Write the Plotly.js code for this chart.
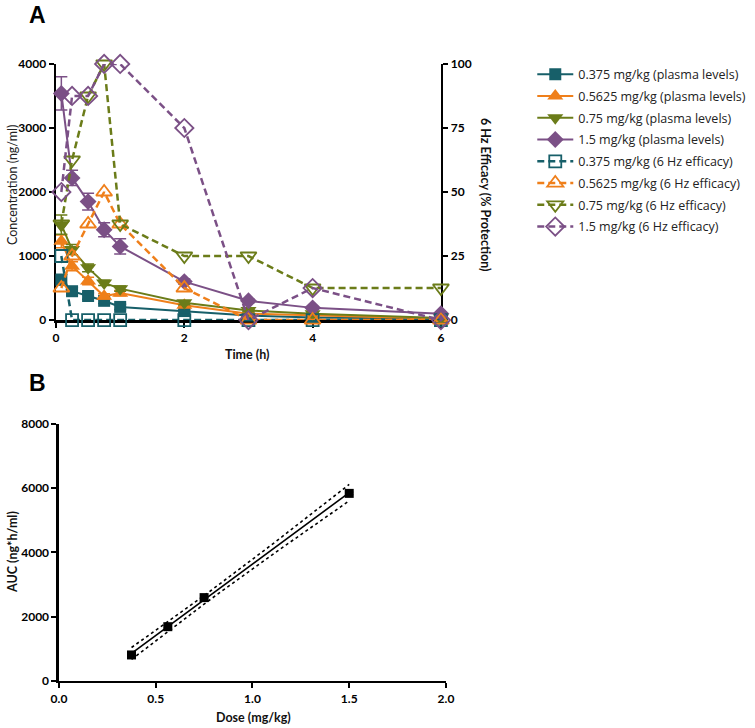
<!DOCTYPE html>
<html>
<head>
<meta charset="utf-8">
<script src="https://cdn.plot.ly/plotly-3.0.1.min.js"></script>
<style>html,body{margin:0;padding:0;background:#fff;}#chart{width:755px;height:728px;}</style>
</head>
<body>
<div id="chart"></div>
<script>
// ---------- Data (panel A) ----------
var timeH = [0.083, 0.25, 0.5, 0.75, 1, 2, 3, 4, 6];
var doseLabels = ["0.375 mg/kg", "0.5625 mg/kg", "0.75 mg/kg", "1.5 mg/kg"];

// plasma concentration (ng/ml), mean and error
var plasma0375 = [630, 450, 375, 300, 205, 140, 70, 40, 20];
var plasma05625 = [1230, 840, 610, 370, 420, 230, 100, 70, 20];
var plasma075 = [1490, 1100, 815, 580, 490, 270, 150, 100, 30];
var plasma15 = [3540, 2220, 1850, 1410, 1150, 600, 300, 190, 100];
var err0375 = [80, 60, 50, 40, 40, 20, 10, 10, 5];
var err05625 = [100, 70, 60, 40, 40, 30, 10, 10, 5];
var err075 = [150, 80, 60, 40, 40, 30, 20, 10, 5];
var err15 = [260, 120, 130, 110, 120, 40, 30, 20, 10];

// 6 Hz efficacy (% protection)
var eff0375 = [25, 0, 0, 0, 0, 0, 0, 0, 0];
var eff05625 = [12.5, 25, 37.5, 50, 37.5, 12.5, 0, 0, 0];
var eff075 = [37.5, 62.5, 87.5, 100, 37.5, 25, 25, 12.5, 12.5];
var eff15 = [50, 87.5, 87.5, 100, 100, 75, 0, 12.5, 0];

// ---------- Data (panel B) ----------
var doseMgKg = [0.375, 0.5625, 0.75, 1.5];
var aucValues = [810, 1690, 2595, 5840];
var aucErr = [40, 40, 40, 40];

var colors = ["#175f69", "#ef7f1a", "#6b7c19", "#7b5086"];
var plasmaSeries = [plasma0375, plasma05625, plasma075, plasma15];
var errSeries = [err0375, err05625, err075, err15];
var effSeries = [eff0375, eff05625, eff075, eff15];
var filledSymbols = ["square", "triangle-up", "triangle-down", "diamond"];
var openSymbols = ["square-open", "triangle-up-open", "triangle-down-open", "diamond-open"];
var filledSizes = [12, 14, 14, 13];
var openSizes = [12, 14, 14, 14];

var legendFont = {family: "'Open Sans', Lato, sans-serif", size: 12.5, color: "#222"};
var traces = [];
for (var i = 0; i < 4; i++) {
  traces.push({
    x: timeH, y: plasmaSeries[i], type: "scatter", mode: "lines+markers",
    name: doseLabels[i] + " (plasma levels)", legendgroup: "p" + i,
    xaxis: "x", yaxis: "y", cliponaxis: false,
    line: {color: colors[i], width: 2},
    marker: {symbol: filledSymbols[i], size: filledSizes[i], color: colors[i]},
    error_y: {type: "data", array: errSeries[i], visible: true, color: colors[i], thickness: 1.5, width: 6}
  });
}
for (var j = 0; j < 4; j++) {
  traces.push({
    x: timeH, y: effSeries[j], type: "scatter", mode: "lines+markers",
    name: doseLabels[j] + " (6 Hz efficacy)", legendgroup: "e" + j,
    xaxis: "x", yaxis: "y2", cliponaxis: false,
    line: {color: colors[j], width: 2.5, dash: "7px,4px"},
    marker: {symbol: openSymbols[j], size: openSizes[j], color: colors[j], line: {width: 1.8, color: colors[j]}}
  });
}

// ---------- Linear regression with 95% CI (panel B) ----------
var n = doseMgKg.length, mx = 0, my = 0;
for (var k = 0; k < n; k++) { mx += doseMgKg[k]; my += aucValues[k]; }
mx /= n; my /= n;
var sxx = 0, sxy = 0;
for (k = 0; k < n; k++) { sxx += Math.pow(doseMgKg[k] - mx, 2); sxy += (doseMgKg[k] - mx) * (aucValues[k] - my); }
var slope = sxy / sxx, icpt = my - slope * mx;
var sse = 0;
for (k = 0; k < n; k++) { sse += Math.pow(aucValues[k] - (icpt + slope * doseMgKg[k]), 2); }
var s = Math.sqrt(sse / (n - 2));
var tcrit = 4.303; // t(0.975, df=2)
var fx = [], fy = [], lo = [], hi = [];
var xmin = Math.min.apply(null, doseMgKg), xmax = Math.max.apply(null, doseMgKg);
for (k = 0; k <= 30; k++) {
  var xv = xmin + (xmax - xmin) * k / 30;
  var yv = icpt + slope * xv;
  var se = s * Math.sqrt(1 / n + Math.pow(xv - mx, 2) / sxx);
  fx.push(xv); fy.push(yv); lo.push(yv - tcrit * se); hi.push(yv + tcrit * se);
}
traces.push({x: fx, y: hi, type: "scatter", mode: "lines", xaxis: "x2", yaxis: "y3", showlegend: false, hoverinfo: "skip", line: {color: "#000", width: 1.6, dash: "dot"}});
traces.push({x: fx, y: lo, type: "scatter", mode: "lines", xaxis: "x2", yaxis: "y3", showlegend: false, hoverinfo: "skip", line: {color: "#000", width: 1.6, dash: "dot"}});
traces.push({x: fx, y: fy, type: "scatter", mode: "lines", xaxis: "x2", yaxis: "y3", showlegend: false, hoverinfo: "skip", line: {color: "#000", width: 1.6}});
traces.push({x: doseMgKg, y: aucValues, type: "scatter", mode: "markers", xaxis: "x2", yaxis: "y3", showlegend: false, cliponaxis: false,
  marker: {symbol: "square", size: 9, color: "#000"},
  error_y: {type: "data", array: aucErr, visible: true, color: "#000", thickness: 1.2, width: 4}});

var tickFont = {family: "Lato, 'Liberation Sans', sans-serif", size: 12, color: "#000", weight: "bold"};
var axCommon = {showline: true, linecolor: "#000", linewidth: 2.5, ticks: "outside", ticklen: 5, tickwidth: 2,
  tickcolor: "#000", showgrid: false, zeroline: false, tickfont: tickFont, fixedrange: true, layer: "below traces"};
function ax(extra) { var o = {}; for (var a in axCommon) o[a] = axCommon[a]; for (var b in extra) o[b] = extra[b]; return o; }

var titleFont = {family: "Lato, 'Open Sans', sans-serif", size: 12.5, color: "#111", weight: "bold"};
function ann(text, px, py, angle, font) {
  return {text: text, x: px / 755, y: 1 - py / 728, xref: "paper", yref: "paper", xanchor: "center", yanchor: "middle",
    showarrow: false, textangle: angle, font: font};
}
var panelFont = {family: "Liberation Sans, Arial, sans-serif", size: 23, weight: "bold", color: "#000"};
var layout = {
  width: 755, height: 728,
  margin: {l: 0, r: 0, t: 0, b: 0},
  paper_bgcolor: "#fff", plot_bgcolor: "rgba(0,0,0,0)",
  showlegend: true,
  legend: {x: 0.705, y: 0.918, xanchor: "left", yanchor: "top", font: legendFont, tracegroupgap: 2.5,
    traceorder: "grouped", bgcolor: "rgba(0,0,0,0)", borderwidth: 0, itemwidth: 36},
  xaxis: ax({domain: [0.0742, 0.584], anchor: "y", range: [0, 6], tickvals: [0, 2, 4, 6]}),
  yaxis: ax({domain: [0.5604, 0.9121], anchor: "x", range: [0, 4000], tickvals: [0, 1000, 2000, 3000, 4000]}),
  yaxis2: ax({overlaying: "y", side: "right", anchor: "x", range: [0, 100], tickvals: [0, 25, 50, 75, 100]}),
  xaxis2: ax({domain: [0.0781, 0.5907], anchor: "y3", range: [0, 2], tickvals: [0, 0.5, 1, 1.5, 2], tickformat: ".1f"}),
  yaxis3: ax({domain: [0.0646, 0.4176], anchor: "x2", range: [0, 8000], tickvals: [0, 2000, 4000, 6000, 8000]}),
  annotations: [
    ann("A", 37, 15, 0, panelFont),
    ann("B", 37, 383, 0, panelFont),
    ann("Concentration (ng/ml)", 12, 185, -90, {family: "Lato, 'Open Sans', sans-serif", size: 12.5, color: "#222"}),
    ann("Time (h)", 248, 354, 0, titleFont),
    ann("6 Hz Efficacy (% Protection)", 485, 195, 90, titleFont),
    ann("AUC (ng*h/ml)", 12, 552, -90, titleFont),
    ann("Dose (mg/kg)", 253, 717, 0, titleFont)
  ]
};
Plotly.newPlot("chart", traces, layout, {staticPlot: true, displayModeBar: false});
</script>
</body>
</html>
